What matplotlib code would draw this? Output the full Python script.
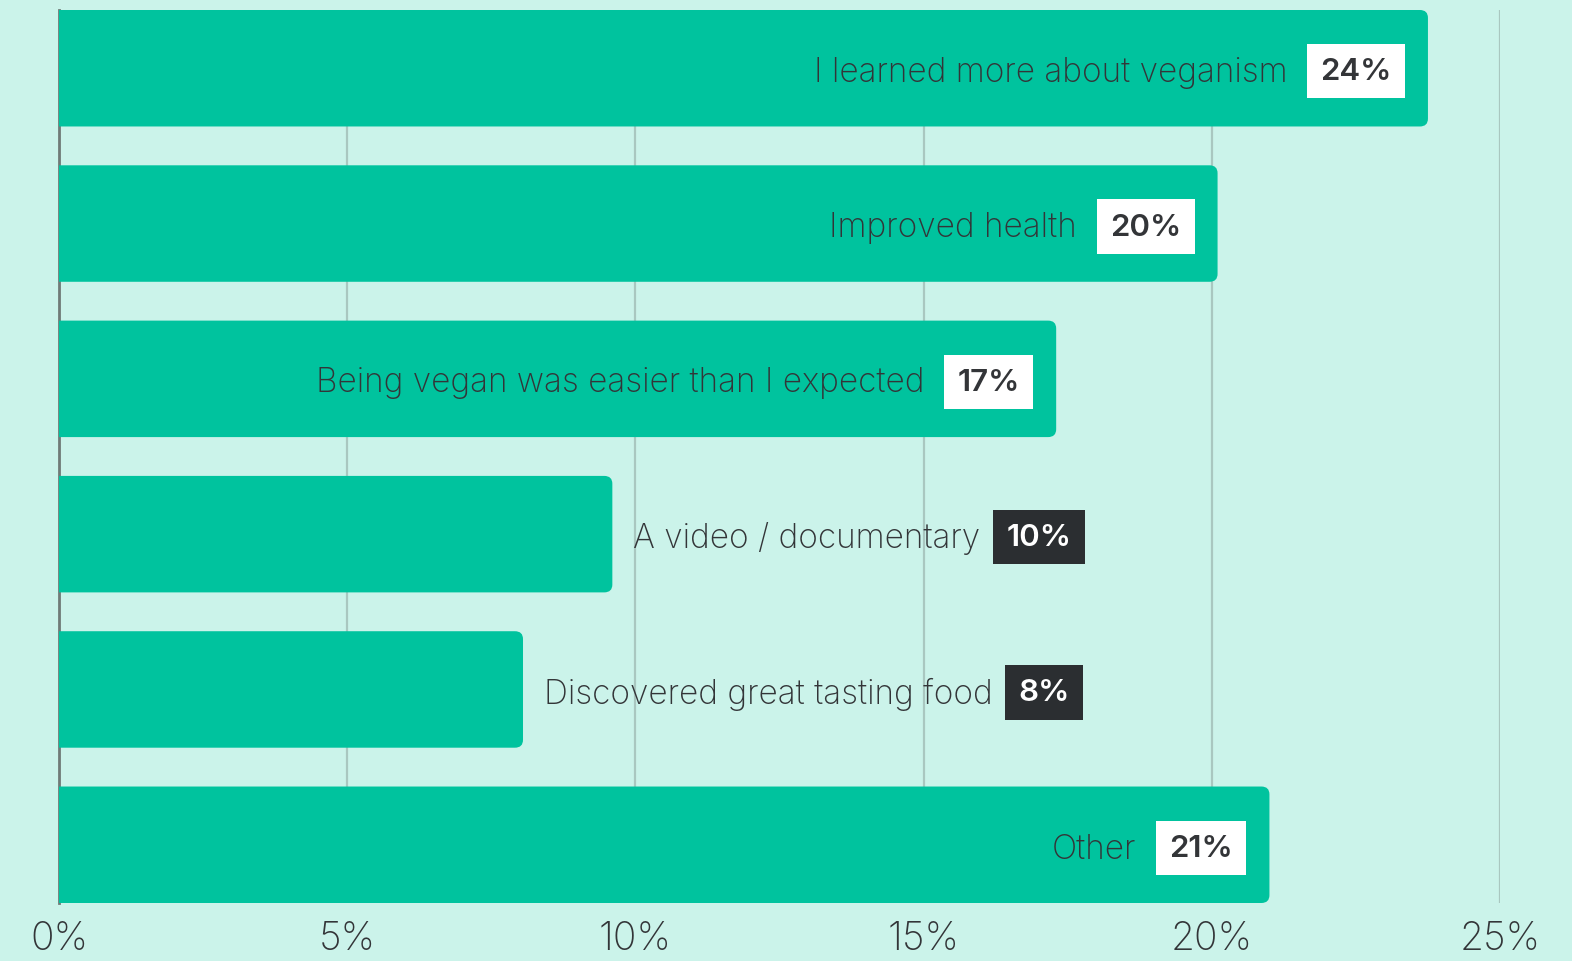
import matplotlib
matplotlib.use("Agg")
from matplotlib import pyplot as plt
from matplotlib.patches import FancyBboxPatch

categories = [
    "I learned more about veganism",
    "Improved health",
    "Being vegan was easier than I expected",
    "A video / documentary",
    "Discovered great tasting food",
    "Other",
]
values = [23.75, 20.1, 17.3, 9.6, 8.05, 21.0]
value_labels = ["24%", "20%", "17%", "10%", "8%", "21%"]
label_inside = [True, True, True, False, False, True]
xticks = [0, 5, 10, 15, 20, 25]
xtick_labels = ["0%", "5%", "10%", "15%", "20%", "25%"]

bg = "#cbf3ea"
bar_col = "#00c39e"
dark = "#2b2e31"
txt_col = "#333538"
grid_col = "#a9c7c0"
fam = ["Inter", "DejaVu Sans"]

W, H = 1572, 962
fig = plt.figure(figsize=(W / 100, H / 100), dpi=100, facecolor=bg)
ax = fig.add_axes([59 / W, 1 - 904 / H, (1500 - 59) / W, (904 - 11) / H])
ax.set_facecolor(bg)

bar_h = 0.75
ax.set_xlim(0, 25)
ax.set_ylim(len(values) - 1 + bar_h / 2, -bar_h / 2)

# bars with rounded right end (left end hidden past the axis)
for i, v in enumerate(values):
    p = FancyBboxPatch((-0.5, i - bar_h / 2), v + 0.5, bar_h,
                       boxstyle="round,pad=0,rounding_size=0.14",
                       mutation_aspect=0.36, fc=bar_col, ec="none", zorder=2)
    ax.add_patch(p)

ax.set_xticks(xticks)
ax.set_xticklabels(xtick_labels, fontsize=28, color=txt_col, family=fam, fontweight="light")
ax.tick_params(axis="x", length=0, pad=12)
ax.set_yticks([])
ax.grid(axis="x", color=grid_col, linewidth=1.6)
ax.set_axisbelow(True)
for s in ["top", "right", "bottom"]:
    ax.spines[s].set_visible(False)
ax.spines["left"].set_color("#6f7a77")
ax.spines["left"].set_linewidth(2)
ax.spines["left"].set_zorder(1)

fig.canvas.draw()
r = fig.canvas.get_renderer()
inv = ax.transData.inverted()

for i, v in enumerate(values):
    if label_inside[i]:
        t = ax.annotate(value_labels[i], (v, i), xytext=(-26, 0), textcoords="offset points",
                        ha="right", va="center_baseline", fontsize=22.5, fontweight="semibold",
                        color=txt_col, family=fam, zorder=5,
                        bbox=dict(boxstyle="square,pad=0.42", fc="white", ec="none"))
        fig.canvas.draw()
        bx = t.get_bbox_patch().get_window_extent(r)
        x0 = inv.transform((bx.x0 - 20, 0))[0]
        ax.text(x0, i, categories[i], ha="right", va="center_baseline", fontsize=24,
                color=txt_col, family=fam, fontweight="light", zorder=5)
    else:
        c = ax.annotate(categories[i], (v, i), xytext=(15, 0), textcoords="offset points",
                        ha="left", va="center_baseline", fontsize=24, color=txt_col,
                        family=fam, fontweight="light", zorder=5)
        fig.canvas.draw()
        bx = c.get_window_extent(r)
        x0 = inv.transform((bx.x1 + 26, 0))[0]
        ax.text(x0, i, value_labels[i], ha="left", va="center_baseline", fontsize=22.5,
                fontweight="semibold", color="white", family=fam, zorder=5,
                bbox=dict(boxstyle="square,pad=0.42", fc=dark, ec="none"))

fig.savefig("out.png", dpi=100, facecolor=bg)
